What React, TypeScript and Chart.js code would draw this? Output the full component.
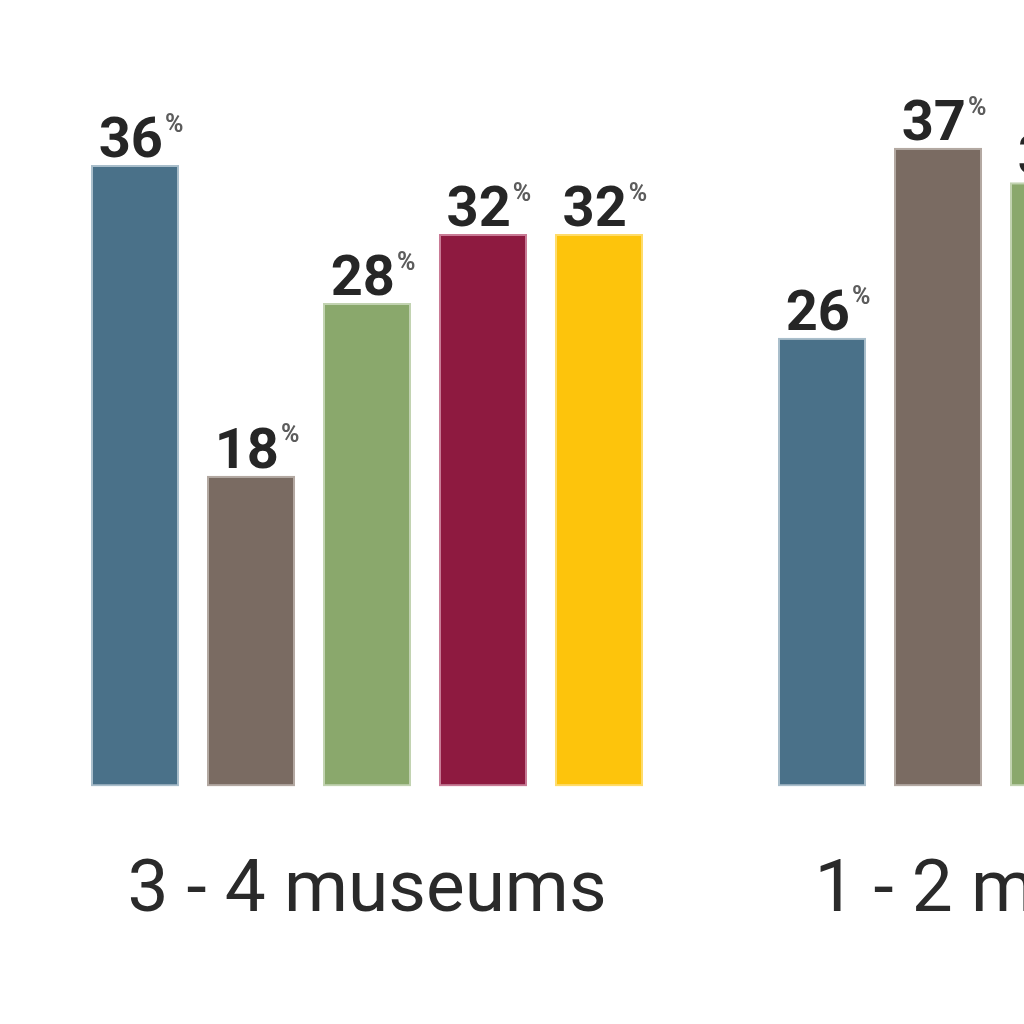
import React, { useEffect, useRef } from "react";
import { Chart, registerables } from "chart.js";

Chart.register(...registerables);

const categories = ["3 - 4 museums", "1 - 2 museums"];
const seriesNames = ["Series 1", "Series 2", "Series 3", "Series 4", "Series 5"];
const series1 = [36, 26];
const series2 = [18, 37];
const series3 = [28, 35];
const series4 = [32, null];
const series5 = [32, null];
const seriesValues = [series1, series2, series3, series4, series5];
const fillColors = ["#4A7189", "#7A6B62", "#8AA86C", "#8E1A40", "#FDC40C"];
const edgeColors = ["#A9BECB", "#B3A8A1", "#C2D3B1", "#C97A95", "#FFDC6A"];

const valueLabelPlugin = {
  id: "valueLabels",
  afterDatasetsDraw(chart: any) {
    const ctx = chart.ctx;
    ctx.save();
    chart.data.datasets.forEach((ds: any, di: number) => {
      const meta = chart.getDatasetMeta(di);
      meta.data.forEach((bar: any, i: number) => {
        const v = ds.data[i];
        if (v === null || v === undefined) return;
        const numText = String(v);
        ctx.font = "bold 56px Roboto";
        const numW = ctx.measureText(numText).width;
        ctx.font = "bold 25px Roboto";
        const pctW = ctx.measureText("%").width;
        const gap = 2;
        const total = numW + gap + pctW;
        const startX = bar.x + 6 - total / 2;
        const baseY = bar.y - 8;
        ctx.textAlign = "left";
        ctx.textBaseline = "alphabetic";
        ctx.font = "bold 56px Roboto";
        ctx.lineWidth = 3;
        ctx.strokeStyle = "rgba(255,255,255,0.9)";
        ctx.strokeText(numText, startX, baseY);
        ctx.fillStyle = "#262626";
        ctx.fillText(numText, startX, baseY);
        ctx.font = "bold 25px Roboto";
        ctx.textBaseline = "top";
        ctx.fillStyle = "#5c5c5c";
        ctx.fillText("%", startX + numW + gap, baseY - 44);
      });
    });
    ctx.restore();
  },
};

export default function App() {
  const ref = useRef<HTMLCanvasElement>(null);
  useEffect(() => {
    if (!ref.current) return;
    const chart = new Chart(ref.current, {
      type: "bar",
      data: {
        labels: categories,
        datasets: seriesValues.map((vals, i) => ({
          label: seriesNames[i],
          data: vals,
          backgroundColor: fillColors[i],
          borderColor: edgeColors[i],
          borderWidth: 2,
          borderSkipped: false,
          categoryPercentage: 0.844,
          barPercentage: 0.76,
        })),
      },
      options: {
        responsive: false,
        animation: false,
        devicePixelRatio: 1,
        layout: { padding: { left: 23.5, right: 22.5, top: 96, bottom: 24 } },
        plugins: { legend: { display: false }, tooltip: { enabled: false } },
        scales: {
          y: { display: false, min: 0, max: 40 },
          x: {
            grid: { display: false, drawTicks: false },
            border: { display: false },
            ticks: {
              padding: 63,
              maxRotation: 0,
              autoSkip: false,
              color: "#2a2a2a",
              font: { family: "Roboto", size: 73, weight: "normal" },
            },
          },
        },
      },
      plugins: [valueLabelPlugin],
    });
    return () => chart.destroy();
  }, []);
  return (
    <div
      style={{
        position: "absolute",
        left: 0,
        top: 0,
        width: 1024,
        height: 1024,
        overflow: "hidden",
        background: "#ffffff",
      }}
    >
      <canvas ref={ref} width={1420} height={1024} style={{ display: "block" }} />
    </div>
  );
}
